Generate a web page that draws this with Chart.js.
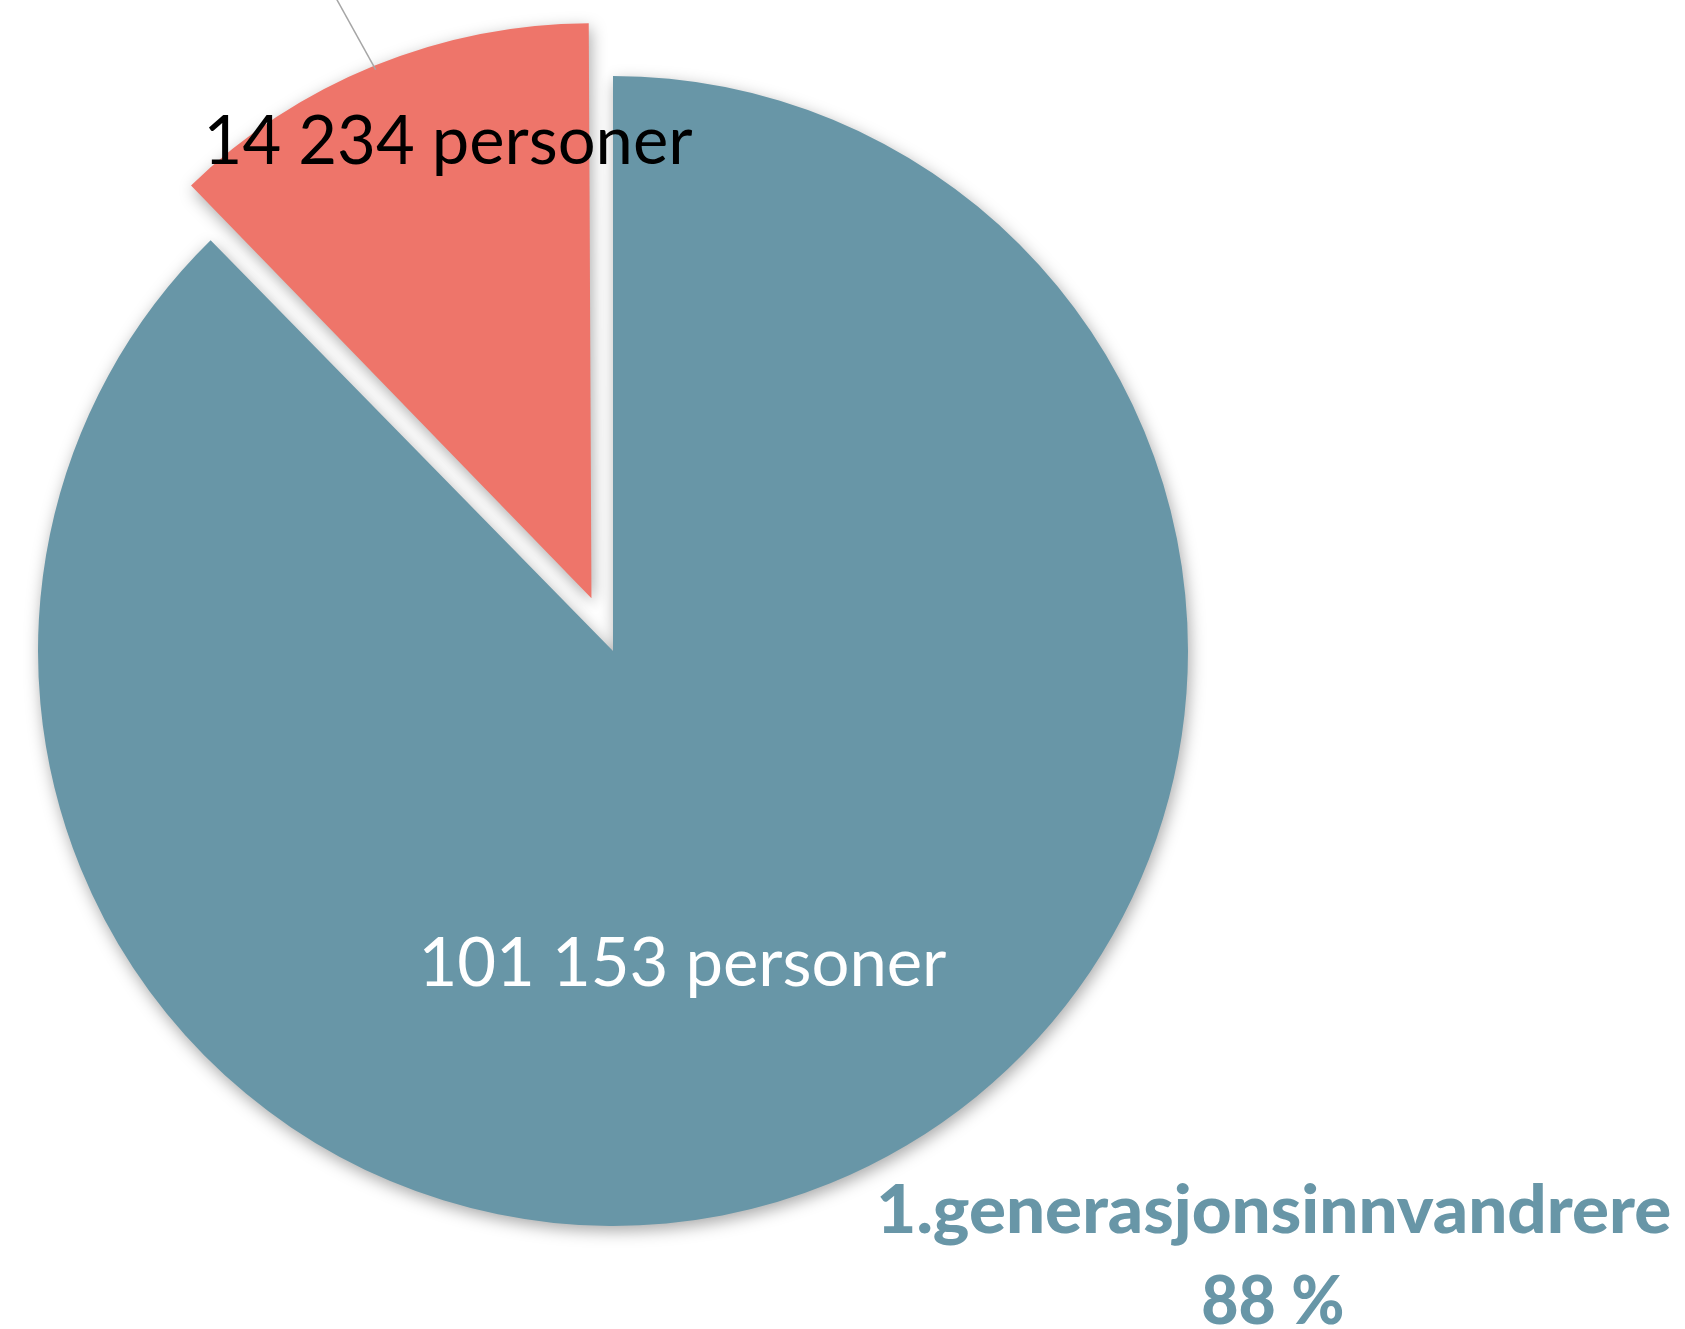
<!DOCTYPE html>
<html>
<head>
<meta charset="utf-8">
<script src="https://cdn.jsdelivr.net/npm/chart.js@4"></script>
<style>
  html, body { margin: 0; padding: 0; background: #fff; }
  canvas { display: block; }
</style>
</head>
<body>
<canvas id="pie" width="1685" height="1329"></canvas>
<script>
// data
const categories = ['1.generasjonsinnvandrere', 'Norskfødte med innvandrerforeldre'];
const persons = [101153, 14234];
const unit = 'personer';

const sliceColors = ['#6896A7', '#EE756A'];
const FONT = 'Lato, "Open Sans", sans-serif';

const total = persons.reduce((a, b) => a + b, 0);
const fmt = (n) => String(n).replace(/\B(?=(\d{3})+(?!\d))/g, ' ');

// draw text with a given digit height, stretched to a given width
function fitText(ctx, text, cx, baseline, capH, width, weight, color) {
  ctx.save();
  ctx.font = weight + ' 100px ' + FONT;
  const ratio = ctx.measureText('1').actualBoundingBoxAscent / 100;
  const size = capH / ratio;
  ctx.font = weight + ' ' + size + 'px ' + FONT;
  const w = ctx.measureText(text).width;
  ctx.translate(cx, baseline);
  ctx.scale(width / w, 1);
  ctx.fillStyle = color;
  ctx.textAlign = 'center';
  ctx.textBaseline = 'alphabetic';
  ctx.fillText(text, 0, 0);
  ctx.restore();
}

// how much Chart.js grows an offset arc while drawing it
const growth = (arc) => {
  const off = (arc.options.offset || 0) / 4;
  return off * (1 - Math.sin(Math.min(Math.PI, arc.circumference || 0)));
};

// keep exploded slices the same size as the rest
const keepRadius = {
  id: 'keepRadius',
  afterDatasetsUpdate(chart) {
    chart.getDatasetMeta(0).data.forEach((arc) => {
      arc.outerRadius -= growth(arc);
    });
  }
};

const shadowPlugin = {
  id: 'shadow',
  beforeDatasetsDraw(chart) {
    const ctx = chart.ctx;
    ctx.save();
    ctx.shadowColor = 'rgba(0,0,0,0.34)';
    ctx.shadowBlur = 16;
    ctx.shadowOffsetX = 2;
    ctx.shadowOffsetY = 5;
  },
  afterDatasetsDraw(chart) {
    chart.ctx.restore();
  }
};

const labelPlugin = {
  id: 'sliceLabels',
  afterDraw(chart) {
    const ctx = chart.ctx;
    const meta = chart.getDatasetMeta(0);
    const blue = meta.data[0];
    const red = meta.data[1];
    const cx = blue.x, cy = blue.y;

    // leader line from the exploded slice's rim, running off the top
    const p = red.getProps(['x', 'y', 'startAngle', 'endAngle', 'outerRadius'], true);
    const mid = (p.startAngle + p.endAngle) / 2;
    const r = p.outerRadius + growth(red) + red.options.offset / 4 - 4;
    const sx = p.x + Math.cos(mid) * r;
    const sy = p.y + Math.sin(mid) * r;
    ctx.save();
    ctx.strokeStyle = '#A6A6A6';
    ctx.lineWidth = 1.5;
    ctx.beginPath();
    ctx.moveTo(sx, sy);
    ctx.lineTo(sx - 38.6 * 1.3, sy - 69.6 * 1.3);
    ctx.stroke();
    ctx.restore();

    // value labels
    fitText(ctx, fmt(persons[0]) + ' ' + unit, cx + 69.4, cy + 335, 49.5, 528, 'normal', '#FFFFFF');
    fitText(ctx, fmt(persons[1]) + ' ' + unit, cx - 164.9, cy - 487, 49.5, 489, 'normal', '#000000');

    // category label with share
    const pct = Math.round(persons[0] / total * 100) + ' %';
    fitText(ctx, categories[0], cx + 660.8, cy + 582, 47.6, 795, '900', sliceColors[0]);
    fitText(ctx, pct, cx + 659.8, cy + 673, 47.6, 143, '900', sliceColors[0]);
  }
};

new Chart(document.getElementById('pie'), {
  type: 'pie',
  data: {
    labels: categories,
    datasets: [{
      data: persons,
      backgroundColor: sliceColors,
      borderWidth: 0,
      radius: 575,
      offset: [0, 228],
      hoverOffset: 0
    }]
  },
  plugins: [keepRadius, shadowPlugin, labelPlugin],
  options: {
    responsive: false,
    animation: false,
    events: [],
    layout: {
      padding: { top: 0, bottom: 27, left: 0, right: 459 }
    },
    plugins: {
      legend: { display: false },
      tooltip: { enabled: false }
    }
  }
});
</script>
</body>
</html>
